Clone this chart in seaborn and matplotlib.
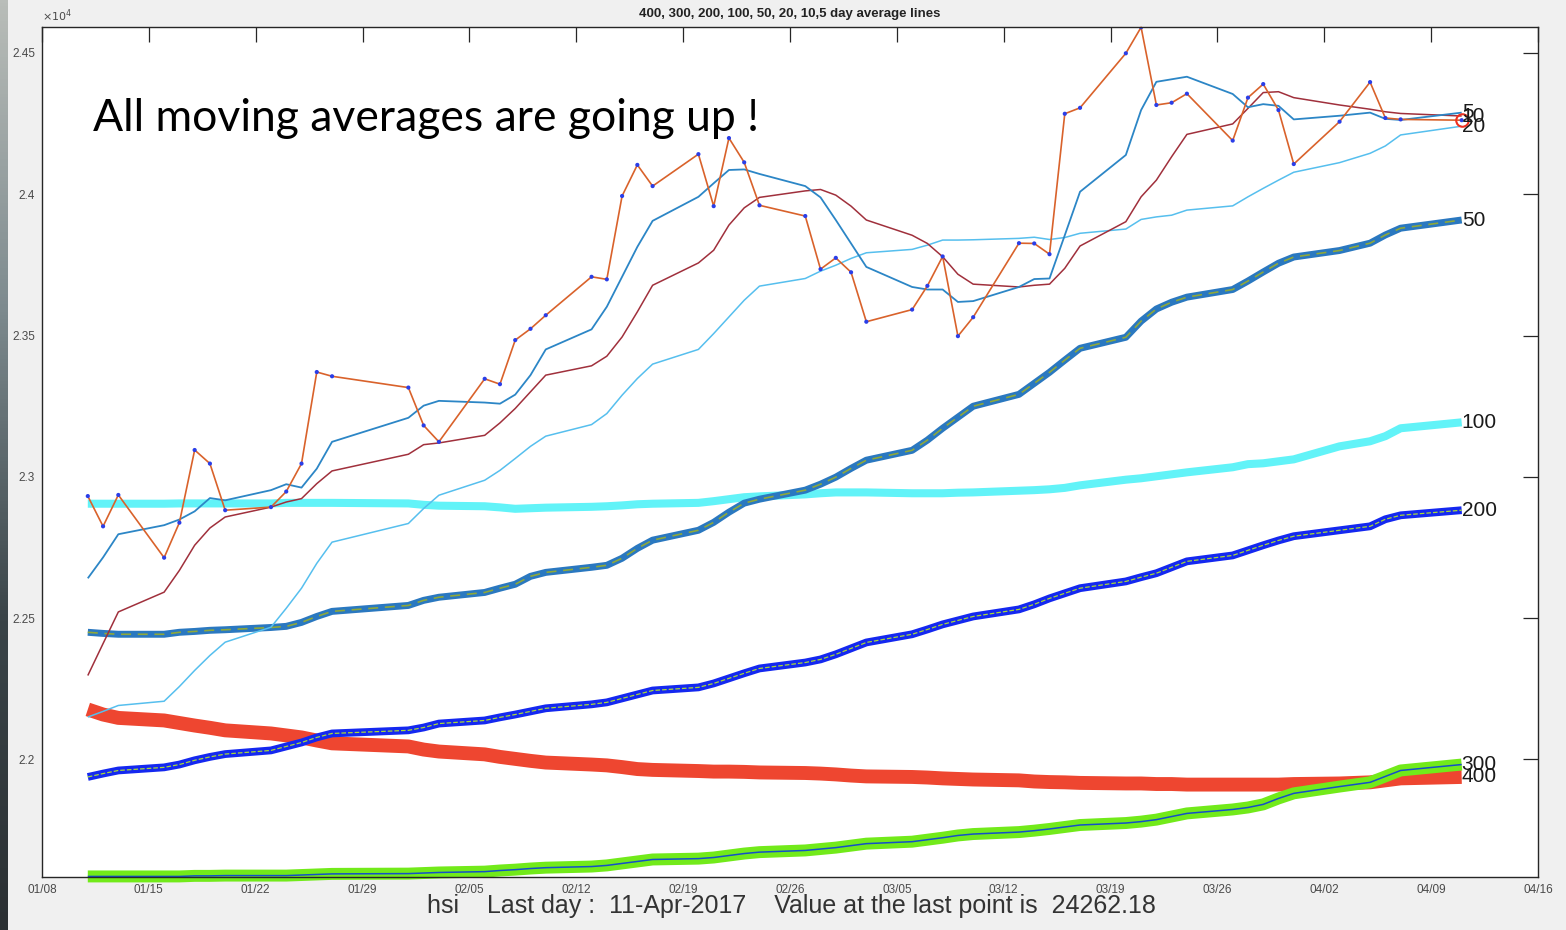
import numpy as np
import pandas as pd
import matplotlib
matplotlib.use("Agg")
import matplotlib.pyplot as plt
import matplotlib.dates as mdates
import seaborn as sns

# ---------------- data ----------------
dates = [
    "2017-01-11", "2017-01-12", "2017-01-13", "2017-01-16", "2017-01-17", "2017-01-18",
    "2017-01-19", "2017-01-20", "2017-01-23", "2017-01-24", "2017-01-25", "2017-01-26",
    "2017-01-27", "2017-02-01", "2017-02-02", "2017-02-03", "2017-02-06", "2017-02-07",
    "2017-02-08", "2017-02-09", "2017-02-10", "2017-02-13", "2017-02-14", "2017-02-15",
    "2017-02-16", "2017-02-17", "2017-02-20", "2017-02-21", "2017-02-22", "2017-02-23",
    "2017-02-24", "2017-02-27", "2017-02-28", "2017-03-01", "2017-03-02", "2017-03-03",
    "2017-03-06", "2017-03-07", "2017-03-08", "2017-03-09", "2017-03-10", "2017-03-13",
    "2017-03-14", "2017-03-15", "2017-03-16", "2017-03-17", "2017-03-20", "2017-03-21",
    "2017-03-22", "2017-03-23", "2017-03-24", "2017-03-27", "2017-03-28", "2017-03-29",
    "2017-03-30", "2017-03-31", "2017-04-03", "2017-04-05", "2017-04-06", "2017-04-07",
    "2017-04-11",
]

close = [22932, 22825, 22936, 22714, 22838, 23095, 23047, 22882, 22893, 22948, 23047, 23371,
         23356, 23316, 23182, 23124, 23347, 23328, 23484, 23524, 23572, 23708, 23699, 23994,
         24104, 24029, 24142, 23958, 24199, 24113, 23961, 23923, 23735, 23775, 23724, 23549,
         23592, 23676, 23780, 23498, 23565, 23827, 23826, 23788, 24285, 24306, 24499, 24591,
         24316, 24324, 24356, 24190, 24342, 24390, 24298, 24107, 24257, 24397, 24270, 24265,
         24262.18]

ma5 = [22641, 22715, 22797, 22829, 22849, 22878, 22925, 22917, 22953, 22974, 22962, 23029,
       23124, 23209, 23252, 23269, 23263, 23259, 23291, 23360, 23451, 23522, 23602, 23708,
       23814, 23906, 23991, 24039, 24086, 24088, 24072, 24029, 23989, 23909, 23826, 23743,
       23672, 23663, 23663, 23619, 23622, 23672, 23700, 23702, 23855, 24009, 24139, 24298,
       24398, 24407, 24416, 24355, 24308, 24319, 24313, 24265, 24278, 24289, 24267, 24263,
       24289]

ma10 = [22297, 22410, 22522, 22592, 22669, 22758, 22819, 22858, 22893, 22911, 22923, 22976,
        23021, 23080, 23114, 23120, 23147, 23191, 23242, 23301, 23360, 23393, 23427, 23495,
        23584, 23678, 23757, 23802, 23891, 23952, 23989, 24012, 24017, 23997, 23958, 23909,
        23855, 23826, 23779, 23717, 23682, 23672, 23678, 23682, 23738, 23817, 23903, 23991,
        24050, 24133, 24212, 24249, 24304, 24360, 24363, 24342, 24316, 24301, 24292, 24286,
        24277]

ma20 = [22150, 22170, 22191, 22206, 22258, 22315, 22368, 22415, 22468, 22535, 22606, 22694,
        22769, 22835, 22888, 22935, 22988, 23023, 23065, 23108, 23144, 23185, 23224, 23289,
        23348, 23399, 23451, 23507, 23566, 23625, 23675, 23702, 23728, 23749, 23773, 23793,
        23805, 23820, 23838, 23838, 23839, 23844, 23848, 23840, 23847, 23862, 23877, 23911,
        23920, 23926, 23944, 23959, 23991, 24021, 24050, 24078, 24112, 24145, 24171, 24210,
        24241]

ma50 = [22450, 22446, 22443, 22443, 22450, 22453, 22457, 22459, 22467, 22471, 22485, 22506,
        22524, 22545, 22563, 22574, 22591, 22606, 22620, 22648, 22662, 22680, 22687, 22712,
        22747, 22776, 22811, 22839, 22875, 22907, 22921, 22953, 22974, 22999, 23030, 23059,
        23094, 23130, 23172, 23211, 23250, 23292, 23331, 23370, 23413, 23455, 23494, 23551,
        23594, 23618, 23636, 23663, 23693, 23725, 23756, 23778, 23801, 23827, 23856, 23880,
        23909]

ma100 = [22905, 22905, 22905, 22905, 22906, 22906, 22906, 22906, 22906, 22908, 22908, 22908,
         22908, 22906, 22901, 22898, 22896, 22892, 22887, 22889, 22891, 22894, 22896, 22899,
         22903, 22905, 22908, 22914, 22921, 22928, 22931, 22938, 22942, 22945, 22945, 22945,
         22942, 22942, 22942, 22944, 22945, 22951, 22953, 22956, 22961, 22970, 22990, 22995,
         23002, 23009, 23016, 23034, 23045, 23048, 23055, 23062, 23108, 23126, 23144, 23172,
         23193]

ma200 = [21938, 21950, 21961, 21972, 21982, 21997, 22009, 22019, 22032, 22046, 22060, 22078,
         22092, 22103, 22113, 22127, 22138, 22149, 22159, 22170, 22181, 22195, 22202, 22216,
         22230, 22244, 22255, 22269, 22287, 22305, 22322, 22343, 22354, 22372, 22393, 22414,
         22443, 22460, 22478, 22492, 22506, 22531, 22549, 22570, 22588, 22606, 22630, 22645,
         22659, 22680, 22701, 22722, 22740, 22758, 22775, 22790, 22811, 22825, 22850, 22864,
         22882]

ma300 = [21586, 21586, 21586, 21586, 21586, 21588, 21588, 21589, 21589, 21589, 21591, 21593,
         21595, 21596, 21598, 21600, 21603, 21607, 21610, 21614, 21617, 21621, 21625, 21632,
         21639, 21646, 21649, 21653, 21660, 21667, 21672, 21678, 21683, 21688, 21695, 21702,
         21709, 21716, 21723, 21731, 21736, 21743, 21748, 21754, 21761, 21768, 21775, 21780,
         21787, 21798, 21809, 21823, 21830, 21841, 21862, 21880, 21904, 21919, 21940, 21961,
         21982]

ma400 = [22177, 22159, 22147, 22138, 22129, 22120, 22112, 22103, 22092, 22085, 22078, 22067,
         22057, 22046, 22035, 22028, 22018, 22009, 22002, 21995, 21989, 21982, 21979, 21973,
         21966, 21963, 21959, 21957, 21957, 21956, 21954, 21952, 21950, 21947, 21943, 21940,
         21938, 21936, 21933, 21931, 21929, 21926, 21922, 21920, 21919, 21917, 21915, 21915,
         21913, 21913, 21911, 21911, 21911, 21911, 21911, 21913, 21915, 21919, 21926, 21933,
         21938]

ytick_values = [22000, 22500, 23000, 23500, 24000, 24500]
ytick_labels = ["2.2", "2.25", "2.3", "2.35", "2.4", "2.45"]
xtick_dates = ["2017-01-08", "2017-01-15", "2017-01-22", "2017-01-29", "2017-02-05",
               "2017-02-12", "2017-02-19", "2017-02-26", "2017-03-05", "2017-03-12",
               "2017-03-19", "2017-03-26", "2017-04-02", "2017-04-09", "2017-04-16"]

title_text = "400, 300, 200, 100, 50, 20, 10,5 day average lines"
note_text = "All moving averages are going up !"
caption_text = "hsi    Last day :  11-Apr-2017    Value at the last point is  24262.18"

# ---------------- figure ----------------
sns.set_style("white")
plt.rcParams['font.family'] = ['Liberation Sans', 'DejaVu Sans']

W, H = 1566, 930
fig = plt.figure(figsize=(W / 100, H / 100), dpi=100, facecolor="#f0f0f0")

# dark strip at the far left (slide background)
strip = fig.add_axes([0, 0, 8 / W, 1])
grad = np.linspace(0, 1, 256).reshape(-1, 1)
strip.imshow(grad, aspect="auto", cmap=matplotlib.colors.LinearSegmentedColormap.from_list(
    "s", ["#b9bdb9", "#7d8a8e", "#3a4448", "#2b3033"]), extent=[0, 1, 0, 1])
strip.set_axis_off()

ax = fig.add_axes([42 / W, 1 - 877 / H, (1538 - 42) / W, (877 - 27) / H])
ax.set_facecolor("white")

x = pd.to_datetime(dates)
df = pd.DataFrame({"date": x, "close": close, "ma5": ma5, "ma10": ma10, "ma20": ma20,
                   "ma50": ma50, "ma100": ma100, "ma200": ma200, "ma300": ma300,
                   "ma400": ma400})

def line(col, color, lw, ls="-", z=2):
    n0 = len(ax.lines)
    sns.lineplot(data=df, x="date", y=col, ax=ax, color=color, linewidth=lw,
                 linestyle=ls, estimator=None, sort=False, zorder=z,
                 solid_capstyle="butt", dash_capstyle="butt")
    for ln in ax.lines[n0:]:
        ln.set_clip_on(False)

line("ma400", "#ee4630", 10.0, z=2)
line("ma300", "#72ea1a", 8.6, z=3)
line("ma300", "#1450c8", 1.1, z=3.1)
line("ma200", "#1428f0", 5.6, z=4)
line("ma200", "#a8d838", 0.9, "--", z=4.1)
line("ma100", "#62f3f8", 5.8, z=5)
line("ma50", "#2a78c0", 5.0, z=6)
line("ma50", "#8ea83a", 1.2, (0, (6, 4)), z=6.1)
line("ma20", "#56bfee", 1.1, z=7)
line("ma10", "#a0303c", 1.1, z=8)
line("ma5", "#2c86c6", 1.3, z=9)
line("close", "#d9622b", 1.2, z=10)
sns.scatterplot(data=df, x="date", y="close", ax=ax, color="#2a3ee8", s=9,
                edgecolor="none", zorder=11, legend=False)
ax.plot([x[-1]], [close[-1]], marker="o", markersize=9, markerfacecolor="none",
        markeredgecolor="#ee3020", markeredgewidth=1.5, zorder=12)

# end labels
lab_kw = dict(ha="left", va="center", fontsize=15, color="#1a1a1a", zorder=13)
for vals, lab in [(ma5, "5"), (ma10, "10"), (ma20, "20"), (ma50, "50"), (ma100, "100"),
                  (ma200, "200"), (ma300, "300"), (ma400, "400")]:
    ax.text(x[-1], vals[-1], lab, **lab_kw)

# axes limits & ticks
ax.set_xlim(pd.Timestamp("2017-01-08"), pd.Timestamp("2017-04-16"))
ax.set_ylim(21584, 24592)
xt = pd.to_datetime(xtick_dates)
ax.set_xticks(xt)
ax.xaxis.set_major_formatter(mdates.DateFormatter("%m/%d"))
ax.set_yticks(ytick_values)
ax.set_yticklabels(ytick_labels)
ax.set_xlabel("")
ax.set_ylabel("")
ax.tick_params(axis="both", direction="in", length=11, width=0.9, color="#262626",
               labelsize=8.5, labelcolor="#4a4a4a", top=True, right=True, pad=5)
for s in ax.spines.values():
    s.set_visible(True)
    s.set_color("#262626")
    s.set_linewidth(1.0)
    s.set_zorder(20)

ax.text(0.0, 1.004, r"$\times10^{4}$", transform=ax.transAxes, ha="left", va="bottom",
        fontsize=8, color="#4a4a4a")

fig.text(790 / W, 1 - 14 / H, title_text, ha="center", va="center", fontsize=9.5,
         fontweight="bold", color="#222222")

fig.text(93 / W, 1 - 131 / H, note_text, ha="left", va="baseline", fontsize=32,
         color="black", family=["Lato", "DejaVu Sans"])

fig.text(791 / W, 1 - 906 / H, caption_text, ha="center", va="center", fontsize=18,
         color="#333333", family=["Liberation Sans Narrow", "Liberation Sans"])

fig.savefig("out.png", dpi=100, facecolor=fig.get_facecolor())
